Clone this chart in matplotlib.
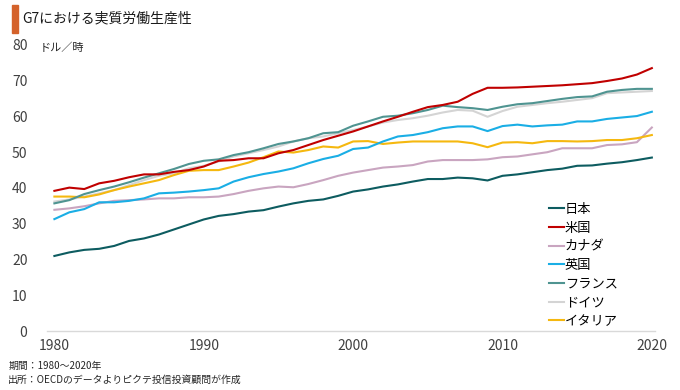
import numpy as np
import matplotlib
matplotlib.use('Agg')
import matplotlib.pyplot as plt
from matplotlib.patches import Rectangle

plt.rcParams['font.family'] = ['Noto Sans CJK JP', 'DejaVu Sans']

years = np.arange(1980, 2021)

# ドル/時
japan = [21.0, 22.0, 22.7, 23.0, 23.8, 25.2, 25.9, 27.0, 28.4, 29.8,
         31.2, 32.2, 32.7, 33.4, 33.8, 34.8, 35.7, 36.4, 36.8, 37.8,
         39.0, 39.6, 40.4, 41.0, 41.8, 42.5, 42.5, 42.9, 42.7, 42.1,
         43.4, 43.8, 44.4, 45.0, 45.4, 46.2, 46.3, 46.8, 47.2, 47.8, 48.5]
usa = [39.2, 40.1, 39.7, 41.3, 42.0, 43.0, 43.8, 43.8, 44.5, 45.0,
       46.0, 47.6, 47.8, 48.3, 48.3, 49.7, 50.6, 52.0, 53.4, 54.6,
       55.8, 57.2, 58.6, 59.9, 61.3, 62.6, 63.2, 64.1, 66.3, 68.0,
       68.0, 68.1, 68.3, 68.5, 68.7, 69.0, 69.3, 69.9, 70.6, 71.7, 73.5]
canada = [33.9, 34.3, 34.9, 35.7, 36.4, 36.6, 36.8, 37.1, 37.1, 37.4,
          37.4, 37.6, 38.3, 39.2, 39.9, 40.4, 40.2, 41.1, 42.2, 43.4,
          44.3, 45.0, 45.7, 46.0, 46.4, 47.4, 47.8, 47.8, 47.8, 48.0,
          48.6, 48.8, 49.4, 50.0, 51.1, 51.1, 51.1, 52.0, 52.2, 52.8, 56.9]
uk = [31.3, 33.2, 34.1, 36.0, 36.0, 36.4, 37.1, 38.5, 38.7, 39.0,
      39.4, 39.9, 41.8, 43.0, 43.9, 44.6, 45.5, 46.9, 48.1, 49.0,
      50.9, 51.3, 53.0, 54.4, 54.8, 55.6, 56.7, 57.2, 57.2, 55.9,
      57.3, 57.7, 57.2, 57.5, 57.7, 58.6, 58.6, 59.3, 59.7, 60.1, 61.3]
france = [35.7, 36.6, 38.3, 39.4, 40.4, 41.6, 42.9, 44.1, 45.3, 46.7,
          47.6, 48.0, 49.2, 50.0, 51.1, 52.3, 53.0, 53.9, 55.3, 55.6,
          57.4, 58.6, 59.9, 60.2, 60.9, 61.8, 63.0, 62.6, 62.3, 61.8,
          62.7, 63.4, 63.7, 64.3, 64.9, 65.4, 65.6, 66.9, 67.4, 67.7, 67.7]
germany = [36.2, 36.8, 37.6, 38.5, 39.4, 40.8, 42.2, 43.4, 44.1, 45.5,
           46.2, 47.4, 48.8, 49.7, 50.6, 51.6, 53.0, 53.9, 54.4, 55.3,
           56.2, 57.2, 58.3, 59.0, 59.5, 60.2, 61.1, 61.8, 61.6, 59.9,
           61.5, 62.7, 63.2, 63.7, 64.1, 64.6, 65.1, 66.5, 66.7, 66.9, 67.1]
italy = [37.6, 37.6, 37.4, 38.2, 39.4, 40.4, 41.3, 42.2, 43.6, 44.8,
         45.0, 45.0, 46.0, 47.1, 48.6, 50.2, 49.9, 50.6, 51.6, 51.3,
         53.0, 53.1, 52.3, 52.7, 53.0, 53.0, 53.0, 53.0, 52.5, 51.4,
         52.7, 52.8, 52.5, 53.1, 53.1, 53.0, 53.1, 53.4, 53.4, 53.9, 54.8]

labels = ['日本', '米国', 'カナダ', '英国', 'フランス', 'ドイツ', 'イタリア']
series = [japan, usa, canada, uk, france, germany, italy]
colors = ['#0d5c60', '#c00000', '#c9a5c0', '#1aaee5', '#4f9491', '#d4d4d4', '#f5b80f']

fig = plt.figure(figsize=(6.8, 3.9), dpi=100)
ax = fig.add_axes([0.069, 0.151, 0.894, 0.734])

# 描画順：後ろから
order = [5, 2, 6, 3, 4, 1, 0]
lines = {}
for i in order:
    ln, = ax.plot(years, series[i], color=colors[i], linewidth=1.5, label=labels[i])
    lines[i] = ln

ax.set_xlim(1979.5, 2020.2)
ax.set_ylim(0, 80)
ax.set_xticks([1980, 1990, 2000, 2010, 2020])
ax.set_yticks(range(0, 81, 10))
ax.tick_params(length=0, labelsize=10, colors='#404040')
ax.tick_params(axis='y', pad=14)
ax.tick_params(axis='x', pad=6)
for s in ['top', 'right', 'left']:
    ax.spines[s].set_visible(False)
ax.spines['bottom'].set_color('#d9d9d9')
ax.spines['bottom'].set_linewidth(1.0)

ax.legend([lines[i] for i in range(7)], labels, loc='lower right',
          bbox_to_anchor=(0.952, -0.017), frameon=False, fontsize=9.5,
          handlelength=1.15, handletextpad=0.05, labelspacing=0.43,
          borderaxespad=0.2)

fig.text(0.058, 0.878, 'ドル／時', fontsize=8, color='#262626', va='center')

# タイトル
fig.patches.append(Rectangle((0.018, 0.915), 0.008, 0.072, transform=fig.transFigure,
                             color='#d4622b', zorder=5))
fig.text(0.033, 0.952, 'G7における実質労働生産性', fontsize=10, color='#1a1a1a', va='center')

fig.text(0.012, 0.062, '期間：1980～2020年', fontsize=7.1, color='#262626', va='center')
fig.text(0.012, 0.025, '出所：OECDのデータよりピクテ投信投資顧問が作成', fontsize=7.1,
         color='#262626', va='center')

fig.savefig('out.png', dpi=100)
